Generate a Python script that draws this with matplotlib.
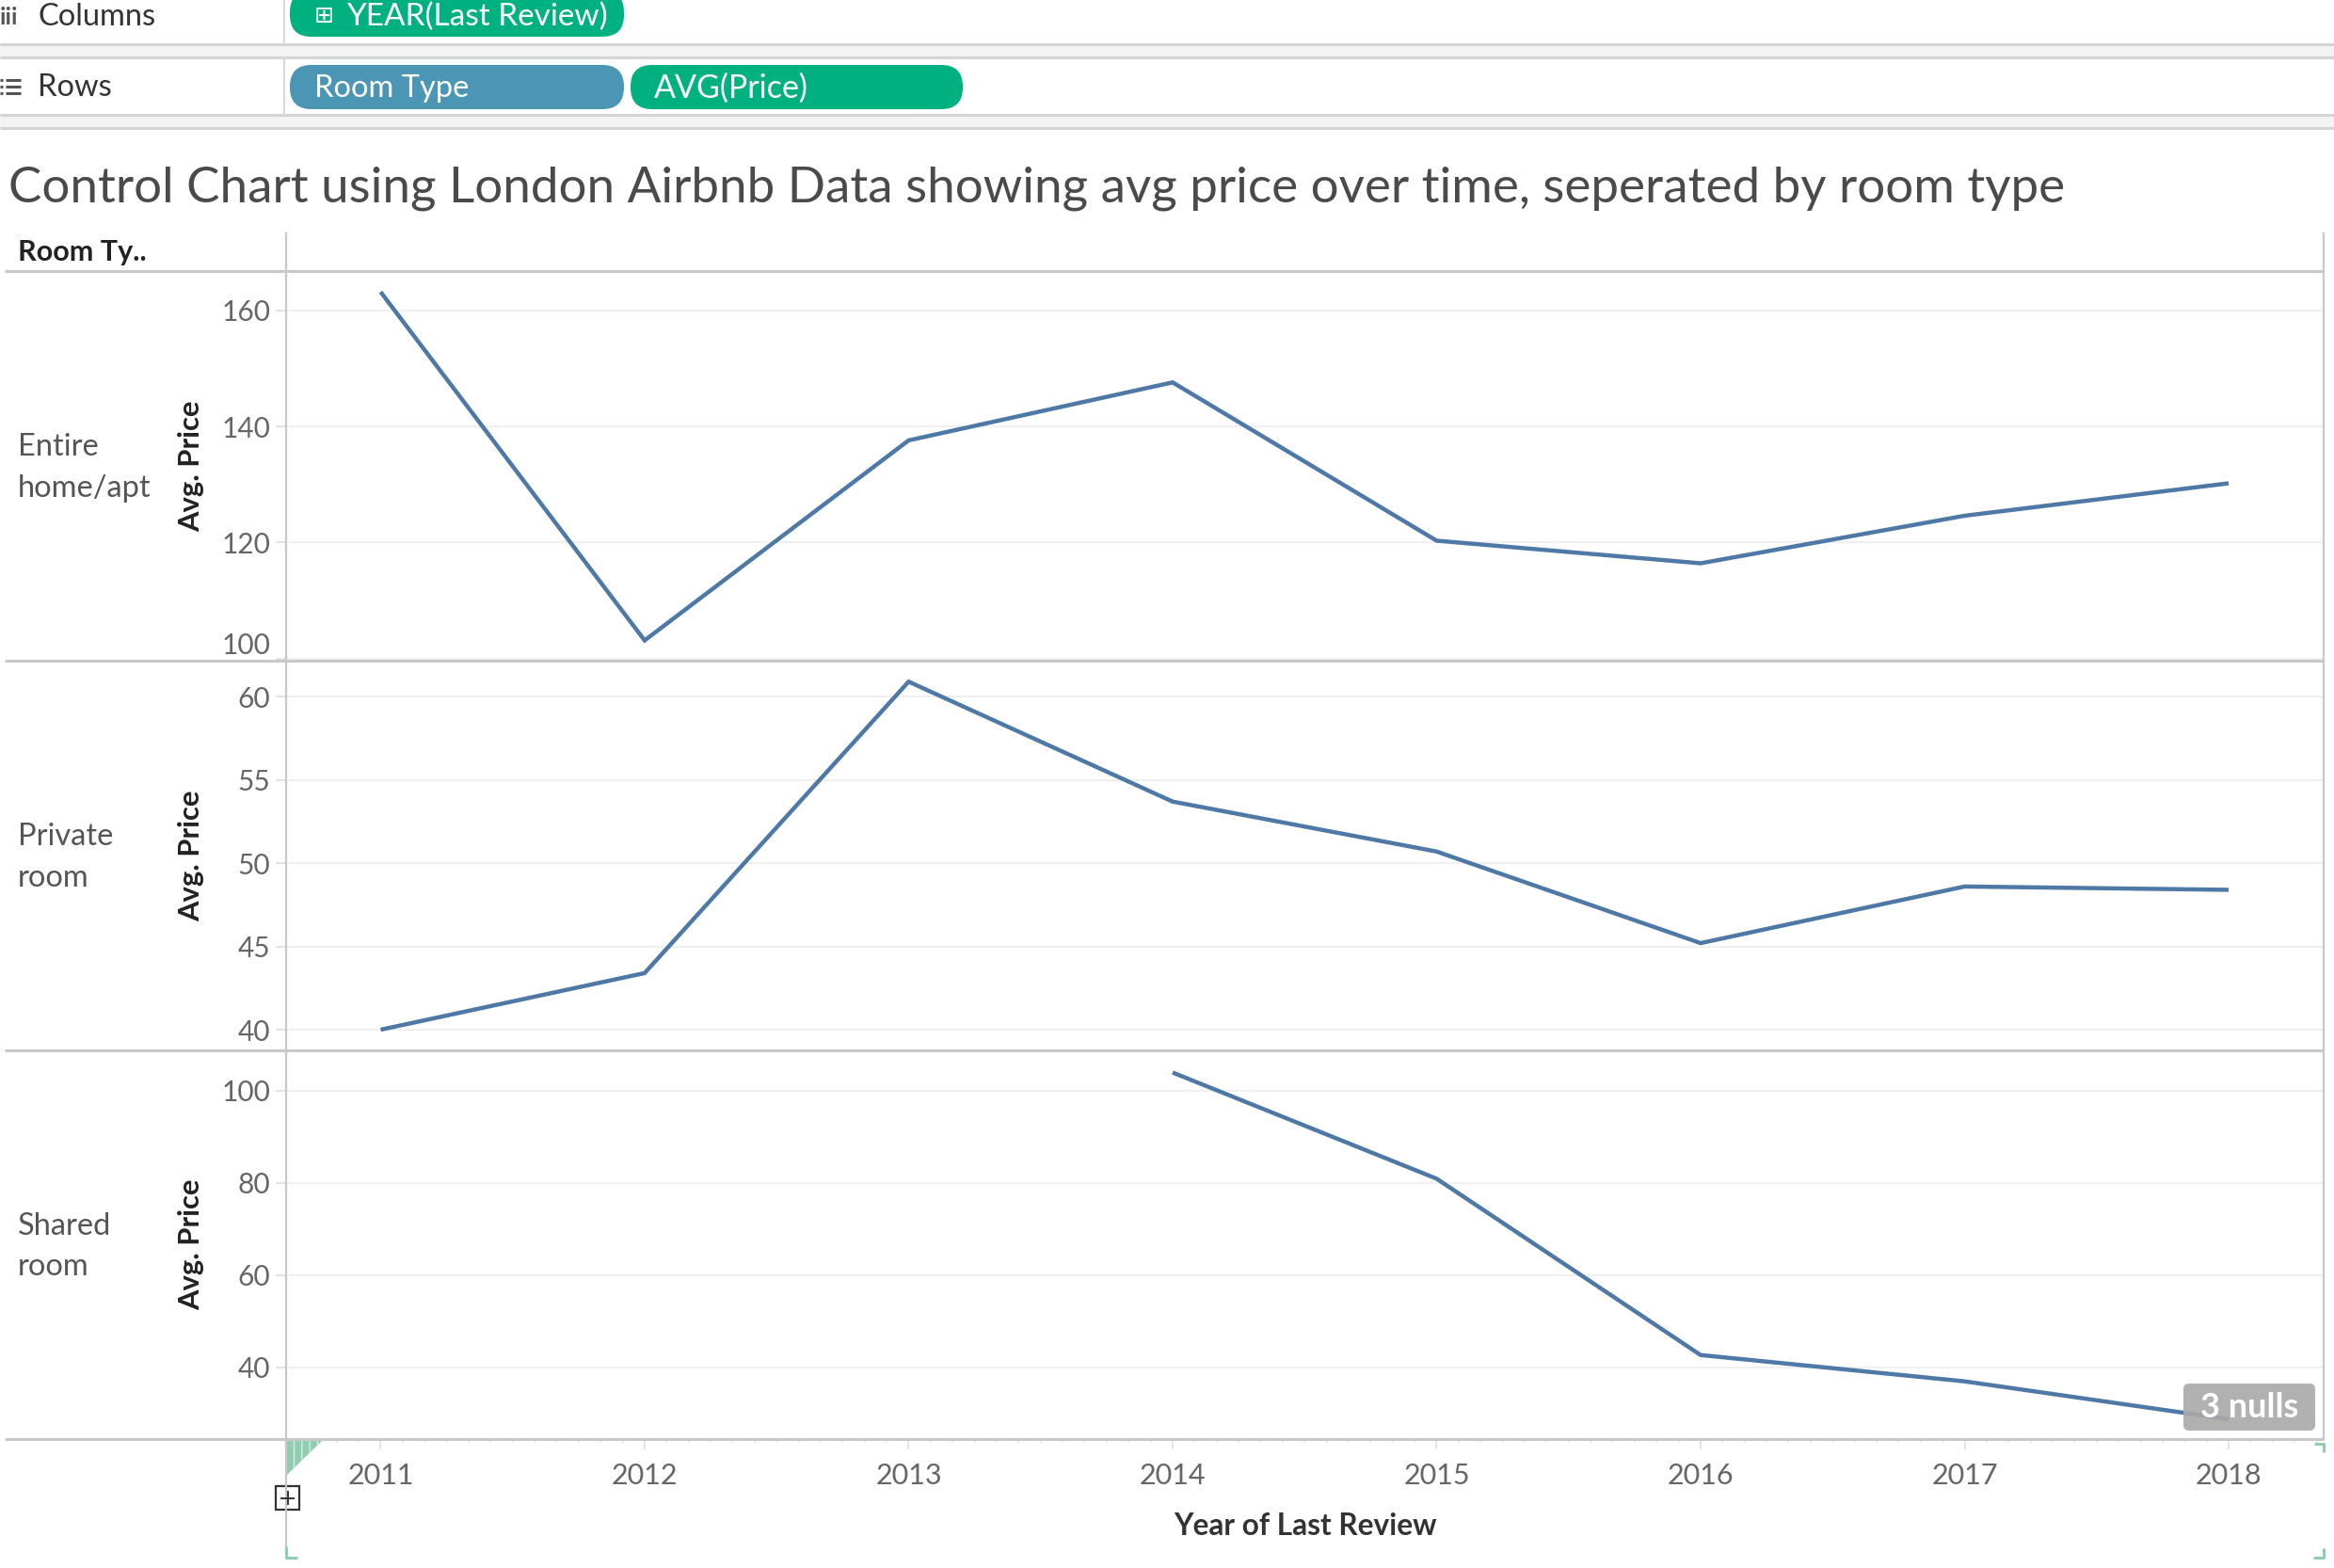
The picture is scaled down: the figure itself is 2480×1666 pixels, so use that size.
import numpy as np
import matplotlib
matplotlib.use("Agg")
import matplotlib.pyplot as plt
from matplotlib.patches import FancyBboxPatch, Rectangle, Polygon

plt.rcParams['font.family'] = ['Lato', 'DejaVu Sans']

years = [2011, 2012, 2013, 2014, 2015, 2016, 2017, 2018]
entire_home = [163.2, 103.1, 137.6, 147.6, 120.3, 116.4, 124.6, 130.2]
private_room = [40.0, 43.4, 60.9, 53.7, 50.7, 45.2, 48.6, 48.4]
shared_room = [np.nan, np.nan, np.nan, 103.9, 80.9, 42.7, 37.0, 28.8]

room_types = ['Entire\nhome/apt', 'Private\nroom', 'Shared\nroom']
series = [entire_home, private_room, shared_room]
y_ticks = [[100, 120, 140, 160], [40, 45, 50, 55, 60], [40, 60, 80, 100]]
y_limits = [(99.6, 166.8), (38.76, 62.16), (24.5, 108.7)]
x_limits = (2010.642, 2018.36)

title = 'Control Chart using London Airbnb Data showing avg price over time, seperated by room type'

# Layout (pixels of the 2480x1666 canvas)
W, H = 2480, 1666
plot_left, plot_right = 304, 2469
panel_rows = [(288, 702), (702, 1116), (1116, 1529)]

LINE = '#4e79a7'
BORDER = '#c8c8c8'
GRID = '#f0f0f0'
TICKTXT = '#666666'
GREEN = '#00b180'
TEAL = '#4a96b4'

fig = plt.figure(figsize=(W / 100, H / 100), dpi=100)
fig.patch.set_facecolor('white')

# background / ui layer in pixel coordinates
ui = fig.add_axes([0, 0, 1, 1], zorder=0)
ui.set_xlim(0, W)
ui.set_ylim(H, 0)
ui.axis('off')

# shelves
ui.add_patch(Rectangle((0, 47), W, 14, color='#f3f3f3', lw=0))
ui.add_patch(Rectangle((0, 122), W, 14, color='#f3f3f3', lw=0))
for yy in [47, 61, 122, 136]:
    ui.plot([0, W], [yy, yy], color='#d4d4d4', lw=2.2, solid_capstyle='butt')
ui.plot([302, 302], [0, 47], color='#d9d9d9', lw=1.5)
ui.plot([302, 302], [61, 122], color='#d9d9d9', lw=1.5)

ui.text(0, 18, 'iii', fontsize=18, color='#555555', va='center', ha='left', fontweight='bold')
for k in range(3):
    ui.plot([0, 3], [85 + 7 * k, 85 + 7 * k], color='#555555', lw=2.2, solid_capstyle='butt')
    ui.plot([6, 22], [85 + 7 * k, 85 + 7 * k], color='#555555', lw=2.2, solid_capstyle='butt')
ui.text(40, 18, 'Columns', fontsize=23.5, color='#333333', va='center', ha='left')
ui.text(40, 93, 'Rows', fontsize=23.5, color='#333333', va='center', ha='left')

pills = [(308, -10, 355, 49, GREEN), (308, 69, 355, 47, TEAL), (670, 69, 353, 47, GREEN)]
for px, py, pw, ph, pc in pills:
    ui.add_patch(FancyBboxPatch((px, py), pw, ph,
                                boxstyle='round,pad=0,rounding_size=23',
                                fc=pc, ec='none', mutation_aspect=1))
ui.text(344, 17, '\u229e', fontsize=18, color='white', va='center', ha='center',
        family=['DejaVu Sans'])
ui.text(368, 18, 'YEAR(Last Review)', fontsize=24, color='white', va='center', ha='left')
ui.text(334, 94, 'Room Type', fontsize=23.5, color='white', va='center', ha='left')
ui.text(695, 94, 'AVG(Price)', fontsize=24.5, color='white', va='center', ha='left')

# title and header
ui.text(9, 200, title, fontsize=38.1, fontweight='normal', color='#4a4a4a', va='center', ha='left')
ui.text(19, 268, 'Room Ty..', fontsize=22, fontweight='bold', color='#222222', va='center', ha='left')

# panels
axes = []
for i, (top, bottom) in enumerate(panel_rows):
    ax = fig.add_axes([plot_left / W, 1 - bottom / H, (plot_right - plot_left) / W, (bottom - top) / H],
                      zorder=1)
    ax.set_facecolor('none')
    ax.plot(years, series[i], color=LINE, lw=3.2, solid_joinstyle='miter', solid_capstyle='butt')
    ax.set_xlim(*x_limits)
    ax.set_ylim(*y_limits[i])
    ax.set_yticks(y_ticks[i])
    ax.grid(axis='y', color=GRID, lw=1.4)
    ax.set_axisbelow(True)
    for s in ax.spines.values():
        s.set_visible(False)
    ax.tick_params(axis='y', length=8, width=1.4, color='#e4e4e4', labelsize=21.5,
                   labelcolor=TICKTXT, pad=4)
    if i < 2:
        ax.tick_params(axis='x', bottom=False, labelbottom=False)
    axes.append(ax)

    cy = (top + bottom) / 2
    ui.text(19, cy + 2, room_types[i], fontsize=23.5, color='#555555', va='center', ha='left',
            linespacing=1.55)
    ui.text(203, cy, 'Avg. Price', fontsize=22.3, fontweight='bold', color='#222222',
            rotation=90, va='center', ha='center')

# lowest tick label of the top panel is nudged up like Tableau does
lab = axes[0].get_yticklabels()[0]
lab.set_va('bottom')

ax3 = axes[2]
ax3.set_xticks(years)
ax3.set_xticks(np.arange(x_limits[0], x_limits[1], 1 / 12) + (2011 - x_limits[0]) % (1 / 12),
               minor=True)
ax3.tick_params(axis='x', which='major', length=8, width=1.4, color='#e4e4e4', labelsize=22,
                labelcolor=TICKTXT, pad=10)
ax3.tick_params(axis='x', which='minor', length=3, width=1.2, color='#e8e8e8')
ax3.set_xlabel('Year of Last Review', fontsize=22.8, fontweight='bold', color='#333333', labelpad=18)

# foreground layer: borders, badges, ui marks
fg = fig.add_axes([0, 0, 1, 1], zorder=3)
fg.set_xlim(0, W)
fg.set_ylim(H, 0)
fg.patch.set_alpha(0)
fg.axis('off')

fg.plot([5, plot_right], [288, 288], color=BORDER, lw=2.2, solid_capstyle='butt')
for top, bottom in panel_rows:
    fg.plot([5, plot_right], [bottom, bottom], color=BORDER, lw=2.2, solid_capstyle='butt')
fg.plot([plot_left, plot_left], [248, 1643], color=BORDER, lw=1.6)
fg.plot([plot_right, plot_right], [248, 1529], color=BORDER, lw=1.6)

# Tableau selection decorations
fg.add_patch(Polygon([(plot_left, 1531), (342, 1531), (plot_left, 1568)], closed=True,
                     fc='#93cdb1', ec='#d4efe2', lw=0, hatch='||'))
fg.add_patch(Rectangle((293, 1579), 25, 25, fc='white', ec='#333333', lw=1.6))
fg.plot([299, 312], [1591.5, 1591.5], color='#333333', lw=1.4)
fg.plot([305.5, 305.5], [1585, 1598], color='#333333', lw=1.4)
bracket = '#8fcfb0'
fg.plot([plot_left, plot_left, 316], [1643, 1655, 1655], color=bracket, lw=2.2, solid_capstyle='butt')
fg.plot([2459, plot_right, plot_right], [1534, 1534, 1543], color=bracket, lw=2.2, solid_capstyle='butt')
fg.plot([2458, plot_right, plot_right], [1655, 1655, 1645], color=bracket, lw=2.2, solid_capstyle='butt')

# nulls indicator
fg.add_patch(FancyBboxPatch((2320, 1470), 140, 50, boxstyle='round,pad=0,rounding_size=6',
                            fc='#a9a9a9', ec='none', alpha=0.9))
fg.text(2390, 1496, '3 nulls', fontsize=26, fontweight='bold', color='white', va='center', ha='center')

fig.savefig('out.png', dpi=100, facecolor='white')
